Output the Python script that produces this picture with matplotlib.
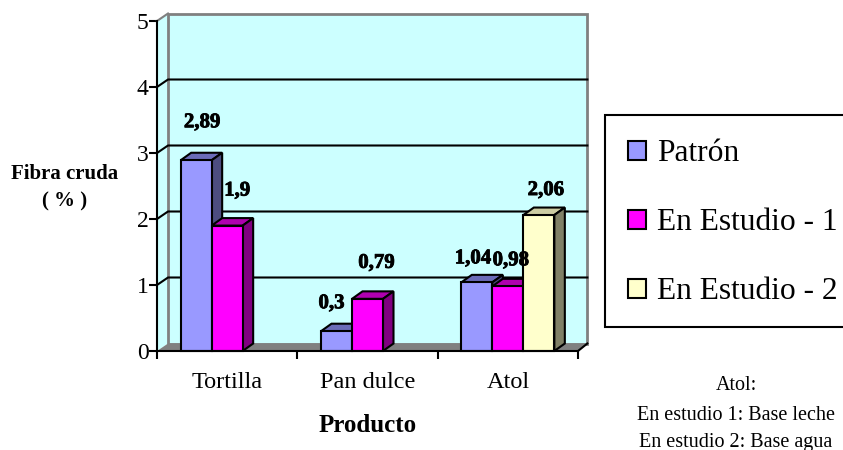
import numpy as np
import matplotlib
matplotlib.use("Agg")
from matplotlib import pyplot as plt
from matplotlib.patches import Polygon, Rectangle
from matplotlib import patheffects as pe

# data
productos = ["Tortilla", "Pan dulce", "Atol"]
patron = [2.89, 0.3, 1.04]
estudio_1 = [1.9, 0.79, 0.98]
estudio_2 = [None, None, 2.06]
series_names = ["Patrón", "En Estudio - 1", "En Estudio - 2"]
y_ticks = [0, 1, 2, 3, 4, 5]

# colours: front, top, side
colors = [
    ("#9999FF", "#6B6BB8", "#4D4D80"),
    ("#FF00FF", "#B000B0", "#800080"),
    ("#FFFFCC", "#CCCCA3", "#808066"),
]

# label offsets in pixels from the top centre of each bar
label_offsets = {
    (0, 0): (6, 38), (0, 1): (10, 35),
    (1, 0): (-5, 28), (1, 1): (9, 36),
    (2, 0): (-4, 24), (2, 1): (3, 26), (2, 2): (7, 25),
}

plt.rcParams["font.family"] = ["Liberation Serif", "DejaVu Serif"]

W, H = 843, 450
fig = plt.figure(figsize=(W / 100, H / 100), dpi=100)
ax_left, ax_right, ax_top, ax_bottom = 157, 578, 21, 351
ax = fig.add_axes([ax_left / W, 1 - ax_bottom / H,
                   (ax_right - ax_left) / W, (ax_bottom - ax_top) / H])
ax.set_xlim(0, 3)
ax.set_ylim(0, 5)
ax.patch.set_visible(False)

# depth of the fake 3d effect, in data units
px_x = 3 / (ax_right - ax_left)
px_y = 5 / (ax_bottom - ax_top)
wall_dx = 11 * px_x
wall_dy = 7.5 * px_y
bar_dx = 10.5 * px_x
bar_dy = 7.5 * px_y


def add_poly(points, **kwargs):
    ax.add_patch(Polygon(points, closed=True, clip_on=False, **kwargs))


# walls and floor
add_poly([(0, 0), (wall_dx, wall_dy), (wall_dx, 5 + wall_dy), (0, 5)],
         facecolor="#CCFFFF", edgecolor="none", zorder=1)
add_poly([(wall_dx, wall_dy), (3 + wall_dx * 0.85, wall_dy),
          (3 + wall_dx * 0.85, 5 + wall_dy), (wall_dx, 5 + wall_dy)],
         facecolor="#CCFFFF", edgecolor="#808080", linewidth=2, zorder=1)
add_poly([(0, 0), (wall_dx, wall_dy), (3 + wall_dx * 0.85, wall_dy), (3, 0)],
         facecolor="#808080", edgecolor="none", zorder=2)
ax.plot([0, wall_dx], [5, 5 + wall_dy], color="#808080", lw=1.5,
        clip_on=False, zorder=2)

# gridlines run along the back wall and slant down the side wall
for v in y_ticks[1:-1]:
    ax.plot([0, wall_dx, 3 + wall_dx * 0.85], [v, v + wall_dy, v + wall_dy],
            color="black", lw=1.5, clip_on=False, zorder=3)
ax.plot([3, 3 + wall_dx * 0.85], [0, wall_dy], color="black", lw=1.5,
        clip_on=False, zorder=3)

# bars
bar_w = 31 * px_x
x = np.arange(len(productos)) + 0.5
all_series = [patron, estudio_1, estudio_2]
z = 5
for g in range(len(productos)):
    for s, values in enumerate(all_series):
        val = values[g]
        if val is None:
            continue
        left = x[g] + (s - 1.5) * bar_w
        right = left + bar_w
        front, top, side = colors[s]
        ax.bar(left, val, width=bar_w, align="edge", color=front,
               edgecolor="black", linewidth=1.5, zorder=z + 1, clip_on=False)
        add_poly([(left, val), (left + bar_dx, val + bar_dy),
                  (right + bar_dx, val + bar_dy), (right, val)],
                 facecolor=top, edgecolor="black", linewidth=1.5, zorder=z)
        add_poly([(right, 0), (right + bar_dx, bar_dy),
                  (right + bar_dx, val + bar_dy), (right, val)],
                 facecolor=side, edgecolor="black", linewidth=1.5, zorder=z)
        z += 2

# value labels go on last so they sit over the bars
for g in range(len(productos)):
    for s, values in enumerate(all_series):
        val = values[g]
        if val is None:
            continue
        ox, oy = label_offsets[(g, s)]
        ax.annotate(f"{val:g}".replace(".", ","),
                    xy=(x[g] + (s - 1.5) * bar_w + bar_w / 2, val),
                    xytext=(ox * 0.72, oy * 0.72), textcoords="offset points",
                    ha="center", va="center", fontsize=15, fontweight="bold",
                    zorder=100, annotation_clip=False,
                    path_effects=[pe.withStroke(linewidth=0.6, foreground="black")])

# axes
for side in ["top", "right"]:
    ax.spines[side].set_visible(False)
for side in ["left", "bottom"]:
    ax.spines[side].set_linewidth(1.5)
    ax.spines[side].set_zorder(60)
ax.set_yticks(y_ticks)
ax.set_xticks([0, 1, 2, 3])
ax.set_xticklabels([])
ax.set_xticks(x, minor=True)
ax.set_xticklabels(productos, minor=True, fontsize=17.5)
ax.tick_params(axis="x", which="major", length=5.5, width=1.5)
ax.tick_params(axis="x", which="minor", length=0, pad=15)
ax.tick_params(axis="y", length=5.5, width=1.5, labelsize=17, pad=0.5)

ax.set_xlabel("Producto", fontsize=18, fontweight="bold", va="center")
ax.xaxis.set_label_coords((368 - ax_left) / (ax_right - ax_left),
                          (ax_bottom - 425) / (ax_bottom - ax_top))
ax.set_ylabel("Fibra cruda\n( % )", fontsize=15, fontweight="bold",
              rotation=0, ha="center", va="center", linespacing=1.5)
ax.yaxis.set_label_coords((65 - ax_left) / (ax_right - ax_left),
                          (ax_bottom - 188) / (ax_bottom - ax_top))

# legend box runs off the right edge of the figure
fig.add_artist(Rectangle((605 / W, 1 - 327 / H), 260 / W, 212 / H,
                         transform=fig.transFigure, facecolor="white",
                         edgecolor="black", linewidth=1.5))
handles = [Rectangle((0, 0), 1, 1, facecolor=c[0], edgecolor="black", linewidth=1.5)
           for c in colors]
fig.legend(handles, series_names, loc="upper left",
           bbox_to_anchor=(622 / W, 1 - 133 / H), frameon=False, fontsize=22.7,
           handlelength=0.56, handleheight=0.56, handletextpad=0.34,
           labelspacing=1.27, borderpad=0.2, borderaxespad=0)

# note under the legend
note_lines = ["Atol:", "En estudio 1: Base leche", "En estudio 2: Base agua"]
for line, ypos in zip(note_lines, [386, 416, 442]):
    fig.text(736 / W, 1 - ypos / H, line, fontsize=14.5, ha="center", va="center")

fig.savefig("out.png", dpi=100)
